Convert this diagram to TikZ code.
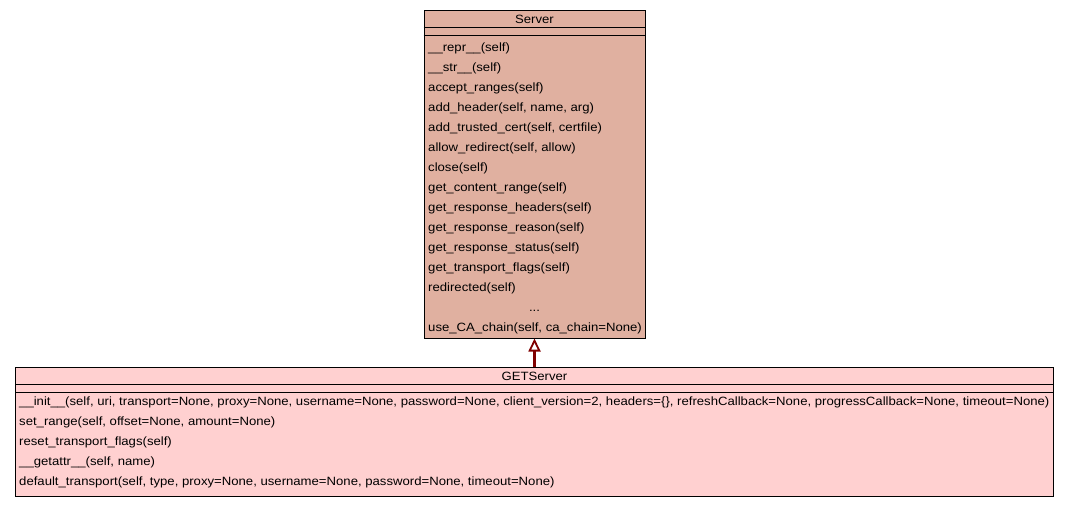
\documentclass[tikz,border=0pt]{standalone}
\usepackage{fontspec}
\setmainfont{Liberation Sans}
\newfontfamily\umlfont[FakeStretch=1.095]{Liberation Sans}
\usetikzlibrary{arrows.meta}
\definecolor{serverfill}{RGB}{224,176,160}
\definecolor{getfill}{RGB}{255,208,208}
\definecolor{inheritline}{RGB}{128,0,0}
\begin{document}
\begin{tikzpicture}[x=1pt,y=-1pt,
  classbox/.style={draw=black, line width=1pt, inner sep=0pt},
  member/.style={anchor=base west, inner sep=0pt, font=\umlfont\fontsize{12}{14}\selectfont},
  classname/.style={anchor=base, inner sep=0pt, font=\umlfont\fontsize{12}{14}\selectfont},
  separator/.style={draw=black, line width=1pt},
  inherits/.style={draw=inheritline, line width=2.2pt,
    -{Triangle[length=13pt,width=12pt,fill=white,line width=1.8pt]}}]
\useasboundingbox (0,0) rectangle (1069,507);

% --- Server class ---
\node[classbox, fill=serverfill, minimum width=221pt, minimum height=328pt] (server) at (534.5,174) {};
\draw[separator] ([yshift=-18pt]server.north west) -- ([yshift=-18pt]server.north east);
\draw[separator] ([yshift=-26pt]server.north west) -- ([yshift=-26pt]server.north east);
\node[classname] (servertitle) at (534.5,23) {Server};
\node[member] (s1)  at (428,51)  {\_\_repr\_\_(self)};
\node[member] (s2)  at (428,71)  {\_\_str\_\_(self)};
\node[member] (s3)  at (428,91)  {accept\_ranges(self)};
\node[member] (s4)  at (428,111) {add\_header(self, name, arg)};
\node[member] (s5)  at (428,131) {add\_trusted\_cert(self, certfile)};
\node[member] (s6)  at (428,151) {allow\_redirect(self, allow)};
\node[member] (s7)  at (428,171) {close(self)};
\node[member] (s8)  at (428,191) {get\_content\_range(self)};
\node[member] (s9)  at (428,211) {get\_response\_headers(self)};
\node[member] (s10) at (428,231) {get\_response\_reason(self)};
\node[member] (s11) at (428,251) {get\_response\_status(self)};
\node[member] (s12) at (428,271) {get\_transport\_flags(self)};
\node[member] (s13) at (428,291) {redirected(self)};
\node[classname] (s14) at (534.5,311) {...};
\node[member] (s15) at (428,331) {use\_CA\_chain(self, ca\_chain=None)};

% --- GETServer class ---
\node[classbox, fill=getfill, minimum width=1038pt, minimum height=129pt] (getserver) at (534.5,431.5) {};
\draw[separator] ([yshift=-18pt]getserver.north west) -- ([yshift=-18pt]getserver.north east);
\draw[separator] ([yshift=-26pt]getserver.north west) -- ([yshift=-26pt]getserver.north east);
\node[classname] (gettitle) at (534.5,380) {GETServer};
\node[member] (g1) at (19,405) {\_\_init\_\_(self, uri, transport=None, proxy=None, username=None, password=None, client\_version=2, headers=\{\}, refreshCallback=None, progressCallback=None, timeout=None)};
\node[member] (g2) at (19,425) {set\_range(self, offset=None, amount=None)};
\node[member] (g3) at (19,445) {reset\_transport\_flags(self)};
\node[member] (g4) at (19,465) {\_\_getattr\_\_(self, name)};
\node[member] (g5) at (19,485) {default\_transport(self, type, proxy=None, username=None, password=None, timeout=None)};

% --- inheritance ---
\draw[inherits] (getserver.north) -- (server.south);
\end{tikzpicture}
\end{document}
